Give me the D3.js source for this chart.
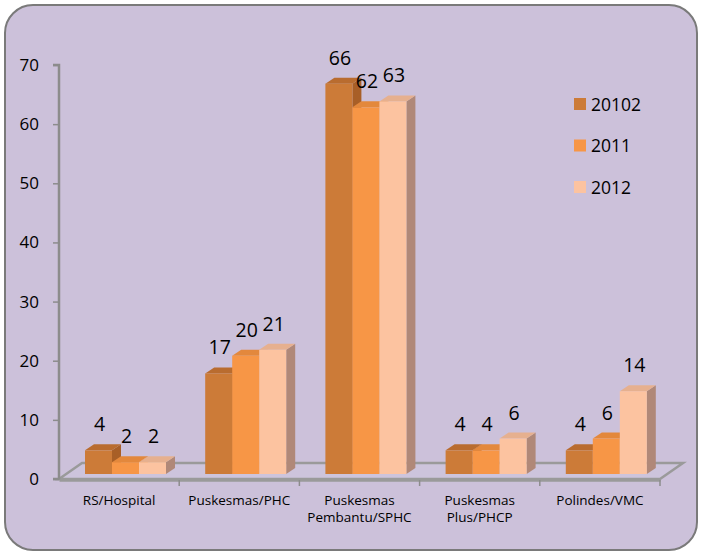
<!DOCTYPE html>
<html><head><meta charset="utf-8">
<script src="https://cdn.jsdelivr.net/npm/d3@7"></script>
<style>body{margin:0;background:#fff}svg{display:block}text{font-family:"Open Sans",sans-serif}</style>
</head><body><svg id="c" width="701" height="554"></svg>
<script>
const categories = [["RS/Hospital"],["Puskesmas/PHC"],["Puskesmas","Pembantu/SPHC"],["Puskesmas","Plus/PHCP"],["Polindes/VMC"]];
const seriesNames = ["20102","2011","2012"];
const s2010 = [4,17,66,4,4];
const s2011 = [2,20,62,4,6];
const s2012 = [2,21,63,6,14];
const yTicks = [0,10,20,30,40,50,60,70];

const series = [s2010,s2011,s2012];
const front = ["#cc7b38","#f79646","#fcc3a0"];
const topC = ["#b96c2f","#e3883c","#e6b08f"];
const sideC = ["#a85f27","#cf7a34","#b08878"];

const svg = d3.select("#c");
svg.append("rect").attr("x",5).attr("y",5).attr("width",692).attr("height",545)
  .attr("rx",28).attr("fill","#ccc1da").attr("stroke","#7a7a7a").attr("stroke-width",2);

const x = d3.scaleBand().domain(d3.range(categories.length)).range([59,660]);
const y = d3.scaleLinear().domain([0,70]).range([479,65]);
const dx = 9, dy = 6, shift = 5;
const by = v => y(v) - shift;
const xs = d3.scaleBand().domain(d3.range(3)).range([26,107]).paddingInner(0);

// floor
const fd = 23, fh = 16;
svg.append("path").attr("d",`M${59},${479} L${59+fd},${479-fh} L${660+fd},${479-fh} L${660},${479} Z`)
  .attr("fill","#cdc4dc").attr("stroke","#9a9a9a").attr("stroke-width",2.5);

// y axis
const yAxis = d3.axisLeft(y).tickValues(yTicks).tickSize(6).tickPadding(14);
const ga = svg.append("g").attr("transform","translate(59,0)").call(yAxis);
ga.select(".domain").attr("stroke","#8c8c8c").attr("stroke-width",2.5).attr("d","M-6,65H0V479H-6");
ga.selectAll(".tick line").attr("stroke","#8c8c8c").attr("stroke-width",1.5);
ga.selectAll(".tick text").attr("font-size",17).attr("fill","#000").attr("font-family","Open Sans");

// x axis
const xAxis = d3.axisBottom(x).tickSize(0).tickFormat("");
const gx = svg.append("g").attr("transform","translate(0,480)").call(xAxis);
gx.select(".domain").attr("stroke","#9a9a9a").attr("stroke-width",2.5);
gx.selectAll(".tick").remove();
const bounds = d3.range(categories.length+1).map(i => 59 + i*x.bandwidth());
svg.selectAll("line.xt").data(bounds.slice(1)).join("line").attr("class","xt")
  .attr("x1",d=>d).attr("x2",d=>d).attr("y1",480).attr("y2",486).attr("stroke","#8c8c8c").attr("stroke-width",1.5);

// category labels
categories.forEach((lines,i)=>{
  const t = svg.append("text").attr("text-anchor","middle").attr("font-size",13.5).attr("fill","#000");
  lines.forEach((l,j)=>t.append("tspan").attr("x",x(i)+x.bandwidth()/2).attr("y",505+j*17).text(l));
});

// bars
categories.forEach((c,i)=>{
  series.forEach((s,k)=>{
    const x0 = x(i)+xs(k), w = xs.bandwidth(), v = s[i];
    const yt = by(v), yb = by(0);
    const g = svg.append("g");
    g.append("path").attr("d",`M${x0+w},${yb} L${x0+w+dx},${yb-dy} L${x0+w+dx},${yt-dy} L${x0+w},${yt} Z`).attr("fill",sideC[k]);
    g.append("path").attr("d",`M${x0},${yt} L${x0+dx},${yt-dy} L${x0+w+dx},${yt-dy} L${x0+w},${yt} Z`).attr("fill",topC[k]);
    g.append("rect").attr("x",x0).attr("y",yt).attr("width",w).attr("height",yb-yt).attr("fill",front[k]);
  });
});
// value labels
categories.forEach((c,i)=>{
  series.forEach((s,k)=>{
    const x0 = x(i)+xs(k), w = xs.bandwidth();
    svg.append("text").attr("x",x0+w/2+1).attr("y",by(s[i])-19).attr("text-anchor","middle")
      .attr("font-size",19.5).attr("fill","#000").text(s[i]);
  });
});

// legend
seriesNames.forEach((n,k)=>{
  const yy = 104 + k*41.5;
  svg.append("rect").attr("x",574).attr("y",yy-6).attr("width",12).attr("height",12).attr("fill",front[k]);
  svg.append("text").attr("x",591).attr("y",yy+6.5).attr("font-size",17.5).attr("fill","#000").text(n);
});
</script></body></html>
